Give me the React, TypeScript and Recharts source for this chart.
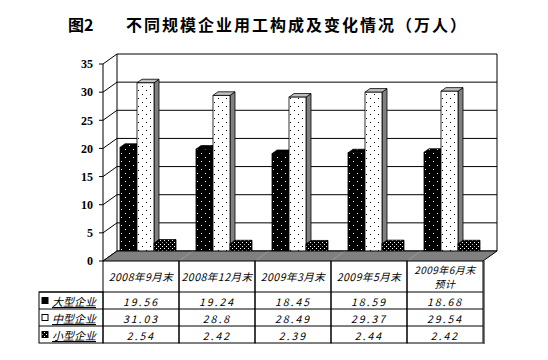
import React from 'react';
import { BarChart, Bar, XAxis, YAxis, CartesianGrid } from 'recharts';

const categories = ['2008年9月末', '2008年12月末', '2009年3月末', '2009年5月末', '2009年6月末\n预计'];
const largeValues = [19.56, 19.24, 18.45, 18.59, 18.68];
const mediumValues = [31.03, 28.8, 28.49, 29.37, 29.54];
const smallValues = [2.54, 2.42, 2.39, 2.44, 2.42];
const seriesNames = ['大型企业', '中型企业', '小型企业'];
const yTicks = [0, 5, 10, 15, 20, 25, 30, 35];
const titleLabel = '图2';
const titleText = '不同规模企业用工构成及变化情况（万人）';

const data = categories.map((name, i) => ({
  name,
  large: largeValues[i],
  medium: mediumValues[i],
  small: smallValues[i],
}));
const seriesValues = [largeValues, mediumValues, smallValues];

const WALL_DX = 14;
const WALL_DY = -10;
const BAR_DX = 5;
const BAR_DY = -3.5;
const BAR_DEPTH_X = 5;
const BAR_DEPTH_Y = 3.6;
const CAT_GAP = 12;
const HEADER_H = 31;
const ROW_H = 17;
const LABEL_W = 64;
const CJK = "'Noto Sans CJK SC', sans-serif";

const makeBarShape = (front: string, top: string, side: string) => (props: any) => {
  const { x, y, width, height } = props;
  if (x == null || y == null || !width || height == null) return <g />;
  const fx = x + BAR_DX;
  const fy = y + BAR_DY;
  const w = width;
  const h = height;
  const topPts = `${fx},${fy} ${fx + BAR_DEPTH_X},${fy - BAR_DEPTH_Y} ${fx + w + BAR_DEPTH_X},${fy - BAR_DEPTH_Y} ${fx + w},${fy}`;
  const sidePts = `${fx + w},${fy} ${fx + w + BAR_DEPTH_X},${fy - BAR_DEPTH_Y} ${fx + w + BAR_DEPTH_X},${fy + h - BAR_DEPTH_Y} ${fx + w},${fy + h}`;
  return (
    <g>
      <polygon points={sidePts} fill={side} stroke="#000" strokeWidth={0.8} />
      <polygon points={topPts} fill={top} stroke="#000" strokeWidth={0.8} />
      <rect x={fx} y={fy} width={w} height={h} fill={front} stroke="#000" strokeWidth={0.8} />
    </g>
  );
};

const largeShape = makeBarShape('url(#pLarge)', 'url(#pLarge)', 'url(#pLargeSide)');
const mediumShape = makeBarShape('url(#pMedium)', '#c0c0c0', '#808080');
const smallShape = makeBarShape('url(#pSmall)', 'url(#pSmall)', 'url(#pSmall)');

const gridLine = (props: any) => {
  const { x1, y1, x2, y2 } = props;
  const gy = Number(props.y);
  const gh = Number(props.height);
  const hasBox = Number.isFinite(gy) && Number.isFinite(gh);
  const isTop = hasBox && Math.abs(y1 - gy) < 1;
  return (
    <g key={props.key ?? `g-${y1}`}>
      {isTop && (
        <g>
          <line x1={x1 + WALL_DX} y1={y1 + WALL_DY} x2={x1 + WALL_DX} y2={y1 + gh + WALL_DY} stroke="#000" />
          <line x1={x2 + WALL_DX} y1={y1 + WALL_DY} x2={x2 + WALL_DX} y2={y1 + gh + WALL_DY} stroke="#000" />
        </g>
      )}
      <line x1={x1 + WALL_DX} y1={y1 + WALL_DY} x2={x2 + WALL_DX} y2={y2 + WALL_DY} stroke="#000" strokeWidth={1} />
      <line x1={x1} y1={y1} x2={x1 + WALL_DX} y2={y1 + WALL_DY} stroke="#000" strokeWidth={1} />
    </g>
  );
};

const keyFills = ['url(#pKeyLarge)', '#fff', 'url(#pSmall)'];

const TableTick = (props: any) => {
  const { x, y, index, payload, width, visibleTicksCount } = props;
  const bw = width && visibleTicksCount ? width / visibleTicksCount : (payload?.offset ?? 38) * 2;
  const x0 = x - bw / 2;
  const x1 = x + bw / 2;
  const top = y;
  const lines = String(payload.value).split('\n');
  const textStyle: any = { fontFamily: CJK, fontStyle: 'italic', fontSize: 10.5, fill: '#000' };
  const rowsTop = top + HEADER_H;
  const tableBottom = rowsTop + ROW_H * 3;
  const isLast = index === visibleTicksCount - 1;
  return (
    <g>
      <path
        d={`M${x0},${top} L${x0 + WALL_DX},${top + WALL_DY} L${x1 + WALL_DX},${top + WALL_DY} L${x1},${top} Z`}
        fill="#808080"
        stroke="none"
      />
      <line x1={x0 + WALL_DX} y1={top + WALL_DY} x2={x1 + WALL_DX} y2={top + WALL_DY} stroke="#000" />
      {index === 0 && <line x1={x0} y1={top} x2={x0 + WALL_DX} y2={top + WALL_DY} stroke="#000" />}
      {isLast && <line x1={x1} y1={top} x2={x1 + WALL_DX} y2={top + WALL_DY} stroke="#000" />}
      <rect x={x0} y={top} width={bw} height={HEADER_H + ROW_H * 3} fill="none" stroke="#000" strokeWidth={1} />
      {[0, 1, 2].map((r) => (
        <line key={`rl${r}`} x1={x0} x2={x1} y1={rowsTop + ROW_H * r} y2={rowsTop + ROW_H * r} stroke="#000" />
      ))}
      {lines.length === 1 ? (
        <text x={x} y={top + HEADER_H / 2} textAnchor="middle" dominantBaseline="central" style={textStyle} letterSpacing={0.5}>
          {lines[0]}
        </text>
      ) : (
        lines.map((ln, k) => (
          <text key={`h${k}`} x={x} y={top + 8.5 + k * 14} textAnchor="middle" dominantBaseline="central" style={{ ...textStyle, fontSize: 10 }} letterSpacing={0.5}>
            {ln}
          </text>
        ))
      )}
      {seriesValues.map((vals, r) => (
        <text key={`v${r}`} x={x} y={rowsTop + ROW_H * r + ROW_H / 2 + 0.5} textAnchor="middle" dominantBaseline="central" style={textStyle} letterSpacing={2}>
          {String(vals[index])}
        </text>
      ))}
      {isLast && <line x1={x1 + 1} y1={top} x2={x1 + 1} y2={tableBottom + 1} stroke="#000" strokeWidth={1} />}
      {index === 0 && (
        <g>
          <rect x={x0 - LABEL_W} y={rowsTop} width={LABEL_W} height={ROW_H * 3} fill="none" stroke="#000" />
          {seriesNames.map((nm, r) => (
            <g key={`lab${r}`}>
              <line x1={x0 - LABEL_W} x2={x0} y1={rowsTop + ROW_H * r} y2={rowsTop + ROW_H * r} stroke="#000" />
              <rect
                x={x0 - LABEL_W + 3}
                y={rowsTop + ROW_H * r + ROW_H / 2 - 3}
                width={6}
                height={6}
                fill={keyFills[r]}
                stroke="#000"
                strokeWidth={1}
              />
              <text
                x={x0 - LABEL_W + 13}
                y={rowsTop + ROW_H * r + ROW_H / 2 + 0.5}
                dominantBaseline="central"
                style={{ ...textStyle, fontSize: 11, textDecoration: 'underline' }}
              >
                {nm}
              </text>
            </g>
          ))}
        </g>
      )}
    </g>
  );
};

export default function App() {
  return (
    <div style={{ position: 'absolute', left: 0, top: 0, width: 548, height: 360, background: '#fff' }}>
      <svg width={0} height={0} style={{ position: 'absolute' }}>
        <defs>
          <pattern id="pLarge" width={8} height={8} patternUnits="userSpaceOnUse">
            <rect width={8} height={8} fill="#000" />
            <rect x={1} y={1} width={1} height={1} fill="#fff" />
            <rect x={5} y={5} width={1} height={1} fill="#fff" />
          </pattern>
          <pattern id="pLargeSide" width={4} height={4} patternUnits="userSpaceOnUse">
            <rect width={4} height={4} fill="#000" />
            <rect x={1} y={1} width={1} height={1} fill="#444" />
          </pattern>
          <pattern id="pMedium" width={8} height={8} patternUnits="userSpaceOnUse">
            <rect width={8} height={8} fill="#fff" />
            <rect x={2} y={2} width={1} height={1} fill="#000" />
            <rect x={6} y={6} width={1} height={1} fill="#000" />
          </pattern>
          <pattern id="pSmall" width={4} height={4} patternUnits="userSpaceOnUse">
            <rect width={4} height={4} fill="#000" />
            <rect x={0} y={0} width={1} height={1} fill="#fff" />
            <rect x={2} y={2} width={1} height={1} fill="#fff" />
          </pattern>
          <pattern id="pKeyLarge" width={4} height={4} patternUnits="userSpaceOnUse">
            <rect width={4} height={4} fill="#000" />
          </pattern>
        </defs>
      </svg>
      <div
        style={{
          position: 'absolute',
          left: 68,
          top: 15,
          fontFamily: CJK,
          fontWeight: 700,
          fontSize: 16,
          lineHeight: '18px',
          whiteSpace: 'nowrap',
          color: '#000',
        }}
      >
        {titleLabel}
      </div>
      <div
        style={{
          position: 'absolute',
          left: 126,
          top: 15,
          fontFamily: CJK,
          fontWeight: 700,
          fontSize: 16,
          lineHeight: '18px',
          letterSpacing: 2,
          whiteSpace: 'nowrap',
          color: '#000',
        }}
      >
        {titleText}
      </div>
      <BarChart
        width={548}
        height={360}
        data={data}
        margin={{ top: 64, right: 65, bottom: 9, left: 73 }}
        barGap={0}
        barCategoryGap={CAT_GAP}
        style={{ position: 'absolute', left: 0, top: 0 }}
      >
        <CartesianGrid vertical={false} horizontal={gridLine} />
        <XAxis
          dataKey="name"
          height={90}
          axisLine={false}
          tickLine={false}
          tickSize={0}
          tickMargin={0}
          interval={0}
          tick={<TableTick />}
        />
        <YAxis
          width={30}
          domain={[0, 35]}
          ticks={yTicks}
          interval={0}
          tickSize={4}
          tickMargin={6}
          axisLine={{ stroke: '#000' }}
          tickLine={{ stroke: '#000' }}
          tick={{ fill: '#000', fontSize: 12, fontWeight: 700, fontFamily: "'Liberation Serif', serif" }}
        />
        <Bar dataKey="large" name={seriesNames[0]} isAnimationActive={false} shape={largeShape} />
        <Bar dataKey="medium" name={seriesNames[1]} isAnimationActive={false} shape={mediumShape} />
        <Bar dataKey="small" name={seriesNames[2]} isAnimationActive={false} shape={smallShape} />
      </BarChart>
    </div>
  );
}
